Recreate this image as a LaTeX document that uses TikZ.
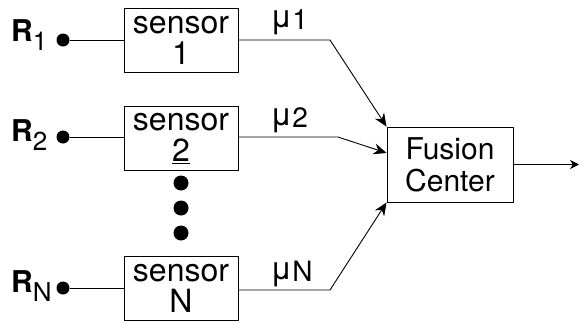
\documentclass[tikz,border=0pt]{standalone}
\usepackage{fontspec}
\setmainfont{TeX Gyre Heros}
\usetikzlibrary{arrows.meta,positioning,calc}
\newcommand{\rsub}[1]{{\bfseries R}\raisebox{-9pt}{\fontsize{26}{26}\selectfont #1}}
\newcommand{\musub}[1]{μ\raisebox{-2pt}{\fontsize{28}{28}\selectfont #1}}

\begin{document}
\begin{tikzpicture}[x=1pt, y=-1pt, font=\fontsize{32}{31}\selectfont,
  sensorbox/.style={draw, line width=0.9pt, minimum width=114pt, minimum height=64pt,
                    inner sep=0pt, align=center},
  fusionbox/.style={draw, line width=0.9pt, minimum width=126pt, minimum height=75pt,
                    inner sep=0pt, align=center, font=\fontsize{30}{32}\selectfont},
  indot/.style={circle, fill=black, inner sep=0pt, minimum size=13pt},
  gapdot/.style={circle, fill=black, inner sep=0pt, minimum size=15pt},
  wire/.style={line width=0.9pt},
  feed/.style={line width=0.9pt, -{Stealth[length=13pt, width=11pt]}},
  rlabel/.style={anchor=base west, inner sep=0pt, font=\fontsize{30}{30}\selectfont},
  mulabel/.style={anchor=base west, inner sep=0pt, font=\fontsize{32}{32}\selectfont}]
  \useasboundingbox (0,0) rectangle (582,322);
  % sensors
  \node[sensorbox] (s1) at (181,40) {sensor\\1};
  \node[sensorbox] (s2) at (181,138.5) {sensor\\\underline{2}};
  \node[sensorbox] (sN) at (181,288) {sensor\\N};
  \foreach \y in {183,208,233}
    \node[gapdot] at (181,\y) {};
  % fusion center
  \node[fusionbox] (fc) at (450,164.5) {Fusion\\Center};
  % inputs
  \node[indot] (r1) at (63,40) {};
  \node[indot] (r2) at (63,137) {};
  \node[indot] (rN) at (63,288) {};
  \node[rlabel] (lr1) at (11,41) {\rsub{1}};
  \node[rlabel] (lr2) at (11,141) {\rsub{2}};
  \node[rlabel] (lrN) at (11,292) {\rsub{N}};
  \draw[wire] (r1) -- (s1);
  \draw[wire] (r2) -- (s2.west |- r2);
  \draw[wire] (rN) -- (sN);
  % local decisions to the fusion center
  \coordinate (b1) at (330,40);
  \coordinate (b2) at (338,137);
  \coordinate (bN) at (330,290);
  \draw[feed] (s1.east) -- (b1) -- (fc.north west);
  \draw[feed] (s2.east |- b2) -- (b2) -- ([yshift=11.5pt]fc.west);
  \draw[feed] (sN.east |- bN) -- (bN) -- (fc.south west);
  \node[mulabel] (m1) at (270,27) {\musub{1}};
  \node[mulabel] (m2) at (270,125) {\musub{2}};
  \node[mulabel] (mN) at (270,279) {\musub{N}};
  % global decision
  \coordinate (out) at (579,164.5);
  \draw[wire, -{Stealth[length=9pt, width=9pt]}] (fc.east) -- (out);
\end{tikzpicture}
\end{document}
